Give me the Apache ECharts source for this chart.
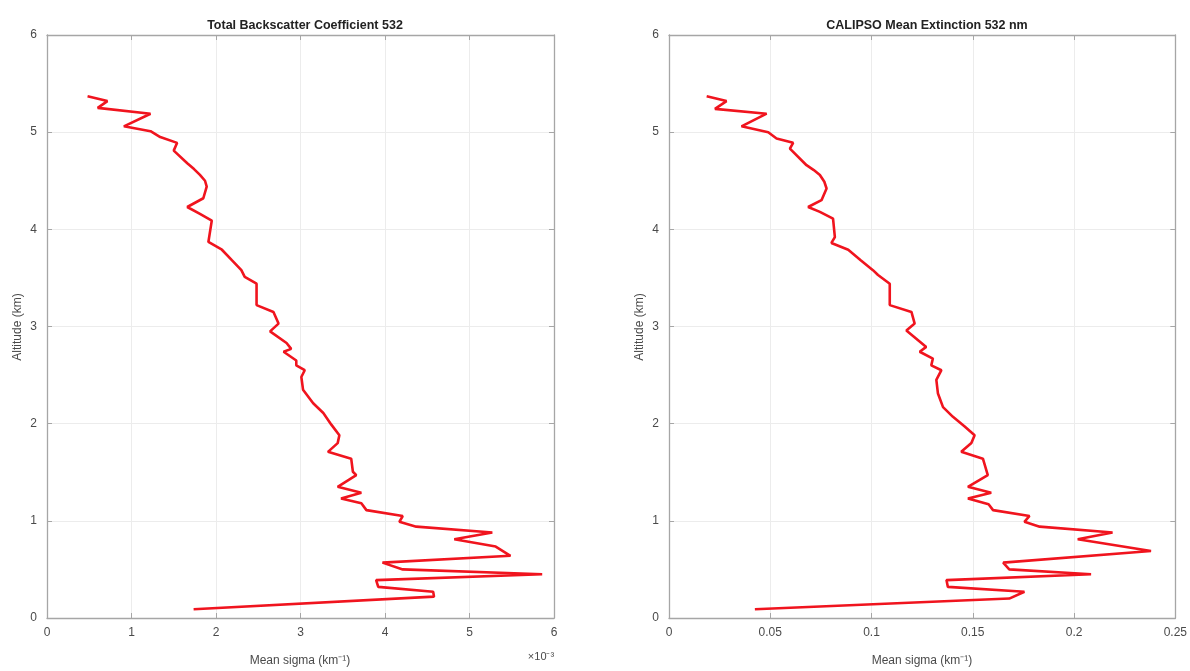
<!DOCTYPE html>
<html>
<head>
<meta charset="utf-8">
<script src="https://cdn.jsdelivr.net/npm/echarts@6/dist/echarts.min.js"></script>
<style>html,body{margin:0;padding:0;background:#fff;}#c{width:1190px;height:671px;}</style>
</head>
<body>
<div id="c"></div>
<script>
// Total backscatter coefficient 532 (values in units of 1e-3 km^-1)
const backscatterAlt = [5.37,5.32,5.25,5.19,5.06,5.01,4.95,4.89,4.81,4.68,4.62,4.56,4.50,4.44,4.32,4.23,4.16,4.09,3.87,3.79,3.68,3.58,3.51,3.44,3.22,3.15,3.03,2.95,2.83,2.77,2.74,2.65,2.60,2.55,2.48,2.35,2.21,2.11,1.99,1.88,1.80,1.71,1.64,1.505,1.47,1.35,1.29,1.23,1.18,1.11,1.05,0.99,0.94,0.88,0.81,0.735,0.64,0.57,0.50,0.45,0.39,0.32,0.27,0.22,0.09];
const backscatterVal = [0.48,0.715,0.60,1.225,0.91,1.225,1.34,1.54,1.50,1.66,1.74,1.81,1.87,1.89,1.85,1.66,1.81,1.95,1.91,2.07,2.19,2.30,2.34,2.48,2.48,2.68,2.74,2.64,2.835,2.89,2.80,2.95,2.95,3.05,3.01,3.03,3.15,3.27,3.365,3.46,3.44,3.325,3.60,3.62,3.66,3.44,3.72,3.48,3.72,3.78,4.21,4.17,4.37,5.27,4.82,5.31,5.485,3.97,4.21,5.86,3.895,3.92,4.57,4.58,1.735];
// CALIPSO mean extinction 532 nm (km^-1)
const extinctionAlt = [5.37,5.32,5.24,5.19,5.06,5.00,4.935,4.89,4.83,4.66,4.61,4.56,4.49,4.42,4.30,4.23,4.18,4.11,3.92,3.86,3.79,3.68,3.58,3.53,3.44,3.22,3.15,3.03,2.96,2.79,2.74,2.67,2.60,2.55,2.45,2.31,2.17,2.07,1.97,1.88,1.80,1.71,1.64,1.47,1.35,1.29,1.23,1.17,1.11,1.05,0.99,0.94,0.88,0.81,0.69,0.57,0.50,0.45,0.39,0.32,0.27,0.20,0.09];
const extinctionVal = [0.0186,0.0284,0.0227,0.0482,0.0358,0.049,0.0531,0.0613,0.0597,0.0679,0.0715,0.0745,0.0767,0.0778,0.0753,0.0687,0.0745,0.081,0.0819,0.0802,0.0885,0.0948,0.1007,0.1032,0.109,0.109,0.1197,0.1213,0.1172,0.127,0.1238,0.1303,0.1295,0.1345,0.132,0.1328,0.1353,0.1402,0.146,0.1509,0.1493,0.1443,0.155,0.1574,0.1476,0.1591,0.1476,0.1578,0.160,0.178,0.1755,0.183,0.219,0.2018,0.238,0.165,0.168,0.2084,0.137,0.1377,0.1755,0.168,0.0424];
const leftTicks = [0,1,2,3,4,5,6];
const rightTicks = [0,0.05,0.1,0.15,0.2,0.25];
const altTicks = [0,1,2,3,4,5,6];
const titles = ['Total Backscatter Coefficient 532','CALIPSO Mean Extinction 532 nm'];
const xName = 'Mean sigma (km\u207B\u00B9)';
const yName = 'Altitude (km)';
const exponentLabel = '\u00D710\u207B\u00B3';

const FONT = '"Liberation Sans", Arial, sans-serif';
const axisCol = '#a6a6a6';
const txtCol = '#4a4a4a';
const chart = echarts.init(document.getElementById('c'));

function pairs(vals, alts){ return vals.map((v,i)=>[v, alts[i]]); }

const grids = [
  {left:47, top:35, width:507, height:583, show:false},
  {left:669, top:35, width:507, height:583, show:false}
];
function xAxes(gi, ticks, fmt){
  const max = ticks[ticks.length-1], interval = ticks[1]-ticks[0];
  return [
    {type:'value', gridIndex:gi, min:ticks[0], max:max, interval:interval, position:'bottom',
     axisLine:{show:true, onZero:false, lineStyle:{color:axisCol, width:1.3}},
     axisTick:{show:true, inside:true, length:5, lineStyle:{color:axisCol}},
     axisLabel:{show:true, color:txtCol, fontFamily:FONT, fontSize:12, margin:9, formatter:fmt},
     splitLine:{show:true, lineStyle:{color:'#ececec', width:1}}},
    {type:'value', gridIndex:gi, min:ticks[0], max:max, interval:interval, position:'top',
     axisLine:{show:true, onZero:false, lineStyle:{color:axisCol, width:1.3}},
     axisTick:{show:true, inside:true, length:5, lineStyle:{color:axisCol}},
     axisLabel:{show:false}, splitLine:{show:false}}
  ];
}
function yAxes(gi){
  const common = {type:'value', gridIndex:gi, min:altTicks[0], max:altTicks[altTicks.length-1], interval:1,
     axisLine:{show:true, onZero:false, lineStyle:{color:axisCol, width:1.3}},
     axisTick:{show:true, inside:true, length:5, lineStyle:{color:axisCol}}};
  return [
    Object.assign({}, common, {position:'left',
     axisLabel:{show:true, color:txtCol, fontFamily:FONT, fontSize:12, margin:10},
     splitLine:{show:true, lineStyle:{color:'#ececec', width:1}}}),
    Object.assign({}, common, {position:'right', axisLabel:{show:false}, splitLine:{show:false}})
  ];
}
const xa = xAxes(0, leftTicks, v=>String(v)).concat(xAxes(1, rightTicks, v=>String(Math.round(v*100)/100)));
const ya = yAxes(0).concat(yAxes(1));

const red = '#f0141e';
const lineStyle = {color:red, width:2.6};
const option = {
  animation:false,
  backgroundColor:'#ffffff',
  title:[
    {text:titles[0], left:300, top:14, textAlign:'center', textStyle:{fontFamily:FONT, fontSize:12.5, fontWeight:'bold', color:'#222'}},
    {text:titles[1], left:922, top:14, textAlign:'center', textStyle:{fontFamily:FONT, fontSize:12.5, fontWeight:'bold', color:'#222'}}
  ],
  grid:grids,
  xAxis:xa,
  yAxis:ya,
  series:[
    {type:'line', xAxisIndex:0, yAxisIndex:0, data:pairs(backscatterVal, backscatterAlt), showSymbol:false, symbol:'none', lineStyle:lineStyle, itemStyle:{color:red}},
    {type:'line', xAxisIndex:2, yAxisIndex:2, data:pairs(extinctionVal, extinctionAlt), showSymbol:false, symbol:'none', lineStyle:lineStyle, itemStyle:{color:red}}
  ],
  graphic:[
    {type:'text', x:300, y:661, style:{text:xName, textAlign:'center', textVerticalAlign:'middle', font:'12px '+FONT, fill:txtCol}},
    {type:'text', x:922, y:661, style:{text:xName, textAlign:'center', textVerticalAlign:'middle', font:'12px '+FONT, fill:txtCol}},
    {type:'text', x:541, y:657, style:{text:exponentLabel, textAlign:'center', textVerticalAlign:'middle', font:'11px '+FONT, fill:txtCol}},
    {type:'text', rotation:Math.PI/2, x:18, y:327, style:{text:yName, textAlign:'center', textVerticalAlign:'middle', font:'12px '+FONT, fill:txtCol}},
    {type:'text', rotation:Math.PI/2, x:640, y:327, style:{text:yName, textAlign:'center', textVerticalAlign:'middle', font:'12px '+FONT, fill:txtCol}}
  ]
};
chart.setOption(option);
</script>
</body>
</html>
